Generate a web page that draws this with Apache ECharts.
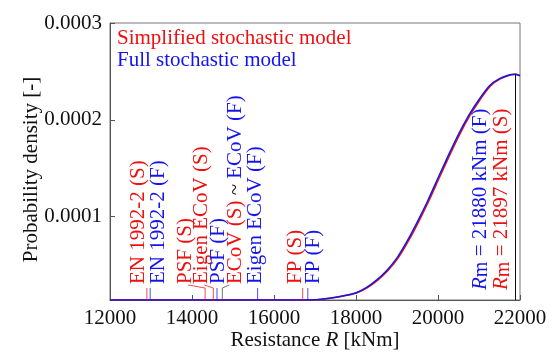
<!DOCTYPE html>
<html>
<head>
<meta charset="utf-8">
<script src="https://cdn.jsdelivr.net/npm/echarts@6/dist/echarts.min.js"></script>
<style>
  html, body { margin: 0; padding: 0; background: #fff; }
  #chart { width: 553px; height: 352px; }
</style>
</head>
<body>
<div id="chart"></div>
<script>
// Probability density of the bending resistance R for the two stochastic models
const xTicks = [12000, 14000, 16000, 18000, 20000, 22000];
const yTicks = [0.0001, 0.0002, 0.0003];
const yFloor = 0.000014;

// Full stochastic model (F)
const resistanceF = [12000, 13000, 14000, 15000, 16000, 16500, 17000, 17250, 17500, 17750, 18000, 18250, 18500, 18750, 19000, 19250, 19500, 19750, 20000, 20250, 20500, 20750, 21000, 21250, 21500, 21750, 21880, 22000];
const densityF    = [0.000014, 0.000014, 0.000014, 0.000014, 0.000014, 0.000014, 0.0000142, 0.0000153, 0.0000168, 0.0000188, 0.0000215, 0.0000268, 0.0000345, 0.0000445, 0.0000575, 0.0000750, 0.0000950, 0.0001165, 0.0001400, 0.0001630, 0.0001850, 0.0002045, 0.0002210, 0.0002350, 0.0002425, 0.0002465, 0.0002472, 0.0002454];

// Simplified stochastic model (S)
const resistanceS = [12000, 13000, 14000, 15000, 16000, 16500, 17030, 17280, 17530, 17780, 18030, 18280, 18530, 18780, 19030, 19280, 19530, 19780, 20030, 20280, 20530, 20780, 21030, 21280, 21530, 21780, 21897, 22000];
const densityS    = [0.000014, 0.000014, 0.000014, 0.000014, 0.000014, 0.000014, 0.0000142, 0.0000153, 0.0000168, 0.0000188, 0.0000215, 0.0000268, 0.0000345, 0.0000445, 0.0000575, 0.0000750, 0.0000950, 0.0001165, 0.0001400, 0.0001630, 0.0001850, 0.0002045, 0.0002210, 0.0002350, 0.0002425, 0.0002465, 0.0002470, 0.0002458];

// Design resistance markers
const markerNames  = ['EN 1992-2 (S)', 'EN 1992-2 (F)', 'PSF (S)', 'Eigen ECoV (S)', 'PSF (F)', 'ECoV (S) ~ ECoV (F)', 'Eigen ECoV (F)', 'FP (S)', 'FP (F)'];
const markerValues = [12900, 12980, 14320, 14520, 14610, 14740, 15600, 16700, 16825];
const markerModel  = ['S', 'F', 'S', 'S', 'F', 'SF', 'F', 'S', 'F'];

// Mean resistance of each model and the peak density
const rmModel  = ['F', 'S'];
const rmValues = [21880, 21897];
const rmPeak = 0.000247;

const RED = '#ee1010';
const BLUE = '#1414ee';
const FONT = '"Liberation Serif", "Times New Roman", serif';
const FS = 21;

// label placement next to each marker stub (px)
const labelShift = [-8.5, 8, -20, -12, 1, 13, -2, -7, 6];
const hasLeader  = [false, false, true, true, false, true, false, false, false];
const rmShift = [-35, -14];

function modelColor(m) { return m === 'S' ? RED : (m === 'F' ? BLUE : '#444'); }

const richStyles = {
  r: { fill: RED, font: FS + 'px ' + FONT },
  k: { fill: '#111', font: FS + 'px ' + FONT },
  b: { fill: BLUE, font: FS + 'px ' + FONT }
};

function markerText(i) {
  if (markerModel[i] === 'SF') {
    const parts = markerNames[i].split(' ~ ');
    return '{r|' + parts[0] + '}{k| ~ }{b|' + parts[1] + '}';
  }
  return markerNames[i];
}

const chart = echarts.init(document.getElementById('chart'), null, { renderer: 'canvas' });

const option = {
  backgroundColor: '#fff',
  animation: false,
  grid: {
    left: 110, right: 33, top: 23, bottom: 52,
    outerBoundsMode: 'none', containLabel: false,
    show: true, borderColor: '#777', borderWidth: 1, backgroundColor: 'transparent'
  },
  xAxis: {
    type: 'value', min: 12000, max: 22000, interval: 2000,
    name: '{a|Resistance }{i|R}{a| [kNm]}',
    nameLocation: 'middle', nameGap: 30, nameMoveOverlap: false,
    nameTextStyle: {
      rich: {
        a: { fontFamily: FONT, fontSize: FS, color: '#111' },
        i: { fontFamily: FONT, fontSize: FS, fontStyle: 'italic', color: '#111' }
      }
    },
    axisLine: { lineStyle: { color: '#555', width: 1 } },
    axisTick: { inside: true, length: 5, lineStyle: { color: '#555' } },
    axisLabel: { margin: 8, fontFamily: FONT, fontSize: FS, color: '#111',
      formatter: v => String(v) },
    splitLine: { show: false }
  },
  yAxis: {
    type: 'value', min: yFloor, max: 0.0003,
    name: 'Probability density [-]',
    nameLocation: 'middle', nameGap: 68, nameRotate: 90, nameMoveOverlap: false,
    nameTextStyle: { fontFamily: FONT, fontSize: FS, color: '#111', padding: [0, 16, 0, 0] },
    axisLine: { show: true, lineStyle: { color: '#555', width: 1 } },
    axisTick: { show: true, inside: true, length: 5, customValues: yTicks, lineStyle: { color: '#555' } },
    axisLabel: { margin: 8, fontFamily: FONT, fontSize: FS, color: '#111',
      customValues: yTicks, formatter: v => v.toFixed(4) },
    splitLine: { show: false }
  },
  graphic: [
    { type: 'text', x: 117, y: 38, style: { text: 'Simplified stochastic model', fill: RED,
      font: FS + 'px ' + FONT, verticalAlign: 'middle' } },
    { type: 'text', x: 117, y: 60, style: { text: 'Full stochastic model', fill: BLUE,
      font: FS + 'px ' + FONT, verticalAlign: 'middle' } }
  ],
  series: [
    {
      name: 'Simplified stochastic model', type: 'line',
      data: resistanceS.map((r, i) => [r, densityS[i]]),
      showSymbol: false, smooth: 0.25,
      lineStyle: { color: RED, width: 1.5 }, itemStyle: { color: RED }, z: 3
    },
    {
      name: 'Full stochastic model', type: 'line',
      data: resistanceF.map((r, i) => [r, densityF[i]]),
      showSymbol: false, smooth: 0.25,
      lineStyle: { color: BLUE, width: 1.5 }, itemStyle: { color: BLUE }, z: 4,
      markLine: {
        silent: true, symbol: 'none', animation: false,
        label: { show: false },
        lineStyle: { color: '#111', width: 1, type: 'solid' },
        data: [[{ coord: [rmValues[0], rmPeak] }, { coord: [rmValues[0], yFloor] }]]
      }
    },
    {
      name: 'markers', type: 'custom', z: 5,
      data: markerValues.map(v => [v, yFloor]),
      renderItem: function (params, api) {
        const i = params.dataIndex;
        const p = api.coord([api.value(0), yFloor]);
        const x = p[0], y0 = p[1];
        const col = modelColor(markerModel[i]);
        const lx = x + labelShift[i];
        const top = y0 - 12;
        const children = [
          { type: 'line', shape: { x1: x, y1: y0, x2: x, y2: top },
            style: { stroke: col, lineWidth: 1, opacity: 0.75 } }
        ];
        if (hasLeader[i]) {
          children.push({ type: 'line', shape: { x1: x, y1: top, x2: lx + (labelShift[i] > 0 ? -6 : 3), y2: top - 3 },
            style: { stroke: col, lineWidth: 1, opacity: 0.75 } });
        }
        children.push({
          type: 'text', x: lx, y: y0 - 16, rotation: Math.PI / 2,
          style: {
            text: markerText(i), fill: col, font: FS + 'px ' + FONT,
            align: 'left', verticalAlign: 'middle', rich: richStyles
          }
        });
        return { type: 'group', children: children };
      }
    },
    {
      name: 'mean resistance', type: 'custom', z: 5,
      data: rmValues.map(v => [v, yFloor]),
      renderItem: function (params, api) {
        const i = params.dataIndex;
        const p = api.coord([api.value(0), yFloor]);
        const col = modelColor(rmModel[i]);
        const txt = '{i|R}{s|m}{n| = ' + rmValues[i] + ' kNm (' + rmModel[i] + ')}';
        return {
          type: 'text', x: p[0] + rmShift[i], y: p[1] - 10, rotation: Math.PI / 2,
          style: {
            text: txt, fill: col, align: 'left', verticalAlign: 'middle',
            rich: {
              i: { fill: col, font: 'italic ' + FS + 'px ' + FONT },
              s: { fill: col, font: (FS - 1) + 'px ' + FONT, padding: [4, 0, 0, 0] },
              n: { fill: col, font: FS + 'px ' + FONT }
            }
          }
        };
      }
    }
  ]
};

chart.setOption(option);
</script>
</body>
</html>
